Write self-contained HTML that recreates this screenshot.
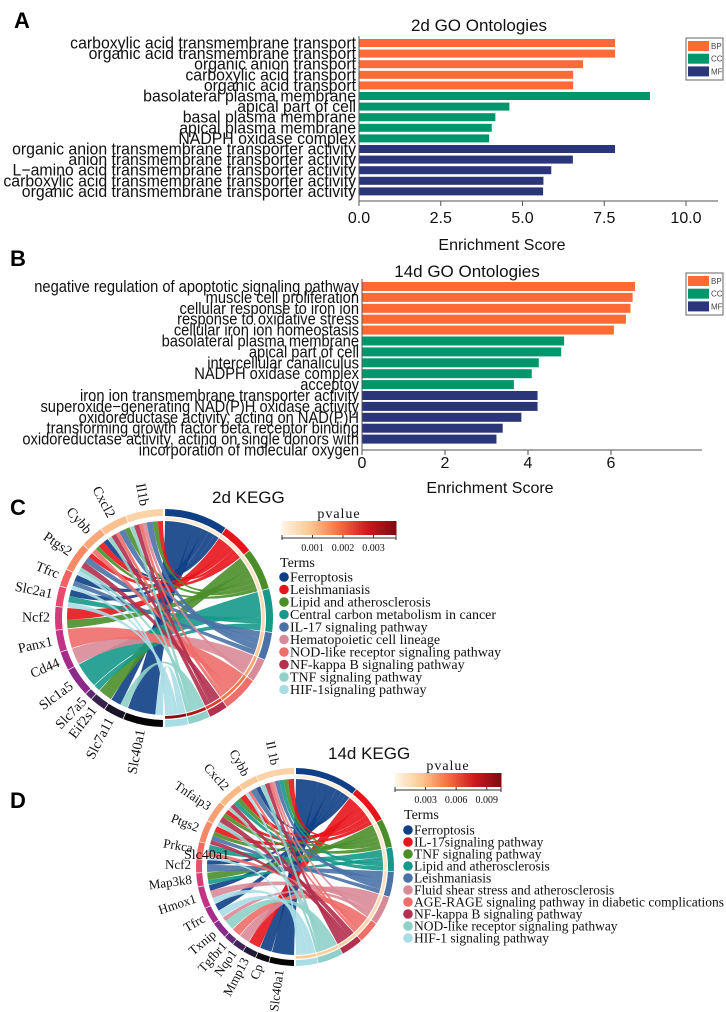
<!DOCTYPE html>
<html><head><meta charset="utf-8"><style>
html,body{margin:0;padding:0;background:#fff;}
svg{display:block;}
text{font-family:"Liberation Sans",sans-serif;}
.serif{font-family:"Liberation Serif",serif;}
</style></head><body>
<svg id="fig" width="726" height="1012" viewBox="0 0 726 1012" xmlns="http://www.w3.org/2000/svg">
<text x="14" y="28" font-size="22" font-weight="bold">A</text>
<text x="10" y="266" font-size="22" font-weight="bold">B</text>
<text x="10" y="515" font-size="22" font-weight="bold">C</text>
<text x="10" y="808" font-size="22" font-weight="bold">D</text>
<g id="gA"></g>
<g id="gB"></g>
<g id="gC"></g>
<g id="gD"></g>
<text x="184" y="859" font-size="14" class="serif" fill="#111">Slc40a1</text>
</svg>
<script>
const goA_terms=["carboxylic acid transmembrane transport","organic acid transmembrane transport","organic anion transport","carboxylic acid transport","organic acid transport","basolateral plasma membrane","apical part of cell","basal plasma membrane","apical plasma membrane","NADPH oxidase complex","organic anion transmembrane transporter activity","anion transmembrane transporter activity","L\u2212amino acid transmembrane transporter activity","carboxylic acid transmembrane transporter activity","organic acid transmembrane transporter activity"];
const goA_values=[7.83,7.83,6.85,6.55,6.55,8.9,4.6,4.17,4.06,3.98,7.83,6.54,5.88,5.64,5.63];
const goA_cats=["BP","BP","BP","BP","BP","CC","CC","CC","CC","CC","MF","MF","MF","MF","MF"];
const goA_ticks=[0,2.5,5,7.5,10];
const goA_tickLabels=["0.0","2.5","5.0","7.5","10.0"];
const goB_terms=["negative regulation of apoptotic signaling pathway","muscle cell proliferation","cellular response to iron ion","response to oxidative stress","cellular iron ion homeostasis","basolateral plasma membrane","apical part of cell","intercellular canaliculus","NADPH oxidase complex","acceptoy","iron ion transmembrane transporter activity","superoxide\u2212generating NAD(P)H oxidase activity","oxidoreductase activity, acting on NAD(P)H","transforming growth factor beta receptor binding","oxidoreductase activity, acting on single donors with|incorporation of molecular oxygen"];
const goB_values=[6.58,6.52,6.47,6.36,6.07,4.87,4.8,4.26,4.09,3.66,4.23,4.23,3.84,3.39,3.24];
const goB_cats=["BP","BP","BP","BP","BP","CC","CC","CC","CC","CC","MF","MF","MF","MF","MF"];
const goB_ticks=[0,2,4,6];
const goB_tickLabels=["0","2","4","6"];
const catColors={BP:"#FE6A35",CC:"#00966B",MF:"#2B357A"};

const c2_terms=["Ferroptosis","Leishmaniasis","Lipid and atherosclerosis","Central carbon metabolism in cancer","IL-17 signaling pathway","Hematopoietic cell lineage","NOD-like receptor signaling pathway","NF-kappa B signaling pathway","TNF signaling pathway","HIF-1signaling pathway"];
const c2_pvalues=[0.0002,0.0003,0.0004,0.0006,0.0009,0.0013,0.0018,0.0024,0.0031,0.0036];
const c2_genes=["Il1b","Cxcl2","Cybb","Ptgs2","Tfrc","Slc2a1","Ncf2","Panx1","Cd44","Slc1a5","Slc7a5","Eif2s1","Slc7a11","Slc40a1"];
const c2_linkTerm=[0,0,0,0,0, 1,1,1,1, 2,2,2,2,2, 3,3,3, 4,4,4,4, 5,5, 6,6,6,6, 7,7,7, 8,8,8,8, 9,9,9,9];
const c2_linkGene=["Slc40a1","Slc7a11","Tfrc","Slc2a1","Cybb", "Ncf2","Cybb","Il1b","Ptgs2", "Eif2s1","Ncf2","Il1b","Cxcl2","Cybb", "Slc1a5","Slc2a1","Slc7a5", "Ptgs2","Cxcl2","Il1b","Tfrc", "Cd44","Il1b", "Panx1","Cybb","Il1b","Cxcl2", "Ptgs2","Il1b","Cxcl2", "Slc7a11","Ptgs2","Il1b","Cxcl2", "Slc40a1","Slc2a1","Tfrc","Ptgs2"];
const c2_linkWeight=[2.2,0.8,0.5,0.5,0.4, 0.9,0.5,0.4,0.4, 1.1,0.7,0.4,0.4,0.3, 2.0,0.5,0.5, 0.5,0.5,0.5,0.4, 1.3,0.3, 1.5,0.4,0.3,0.3, 0.5,0.4,0.4, 0.6,0.3,0.3,0.3, 0.6,0.4,0.3,0.3];
const c2_ticks=[0.001,0.002,0.003];
const c2_tickLabels=["0.001","0.002","0.003"];

const c14_terms=["Ferroptosis","IL-17signaling pathway","TNF signaling pathway","Lipid and atherosclerosis","Leishmaniasis","Fluid shear stress and atherosclerosis","AGE-RAGE signaling pathway in diabetic complications","NF-kappa B signaling pathway","NOD-like receptor signaling pathway","HIF-1 signaling pathway"];
const c14_pvalues=[0.0003,0.0005,0.0008,0.001,0.0012,0.0015,0.0018,0.002,0.0022,0.0025];
const c14_genes=["Il 1b","Cybb","Cxcl2","Tnfaip3","Ptgs2","Prkca","Ncf2","Map3k8","Hmox1","Tfrc","Txnip","Tgfbr1","Nqo1","Mmp13","Cp","Slc40a1"];
const c14_linkTerm=[0,0,0,0,0,0, 1,1,1,1,1, 2,2,2,2,2, 3,3,3,3, 4,4,4,4, 5,5,5,5, 6,6,6,6, 7,7,7,7, 8,8,8,8, 9,9,9,9];
const c14_linkGene=["Slc40a1","Cp","Tfrc","Hmox1","Ncf2","Cybb", "Mmp13","Ptgs2","Cxcl2","Il 1b","Tnfaip3", "Map3k8","Ptgs2","Cxcl2","Il 1b","Tnfaip3", "Prkca","Map3k8","Il 1b","Cxcl2", "Ncf2","Cybb","Il 1b","Ptgs2", "Nqo1","Hmox1","Txnip","Il 1b", "Tgfbr1","Prkca","Il 1b","Cybb", "Tnfaip3","Ptgs2","Cxcl2","Il 1b", "Txnip","Tnfaip3","Il 1b","Cxcl2", "Tfrc","Hmox1","Prkca","Cybb"];
const c14_linkWeight=[1.5,0.8,0.5,0.4,0.3,0.3, 0.8,0.4,0.4,0.4,0.3, 0.5,0.3,0.3,0.3,0.3, 0.5,0.3,0.3,0.3, 0.5,0.4,0.3,0.3, 0.7,0.5,0.3,0.2, 0.6,0.3,0.2,0.2, 0.4,0.3,0.3,0.3, 0.7,0.3,0.3,0.2, 0.5,0.4,0.2,0.2];
const c14_ticks=[0.003,0.006,0.009];
const c14_tickLabels=["0.003","0.006","0.009"];

const termColors=["#0F3F86","#E8141C","#4A8E2A","#16998A","#4A72A6","#D98A98","#EE6E6A","#B3304E","#8FD0C8","#A8DDE5"];
const geneColors2=["#FBD3A6","#F9C090","#F8A878","#F68A64","#F26262","#E64A6E","#D63A7A","#C03386","#A62C8C","#8A2A8A","#5E2A72","#36224C","#1A1428","#050505"];
const geneColors14=["#FBD3A6","#FAC796","#F9B884","#F7A072","#F58866","#F26A62","#E8506C","#D83C78","#C23384","#A82C8A","#8A2A8A","#642A76","#40245A","#221A36","#0D0A14","#050505"];

const NS="http://www.w3.org/2000/svg";
function mk(tag,attrs,parent){const e=document.createElementNS(NS,tag);for(const k in attrs)e.setAttribute(k,attrs[k]);parent.appendChild(e);return e;}

function barChart(g,terms,values,cats,ticks,tickLabels,o){
  const xs=v=>o.x0+v*o.ppu;
  const ys=i=>o.yTop+i*o.pitch;
  const title=mk('text',{x:o.titleX,y:o.titleY,'font-size':17,'text-anchor':'middle',fill:'#111'},g);
  title.textContent=o.title;
  
  
  terms.forEach((t,i)=>{
    const b=mk('rect',{x:xs(0),y:ys(i),width:xs(values[i])-xs(0),height:o.barH,fill:catColors[cats[i]]},g);
    
    
    const lines=t.split('|');
    lines.forEach((ln,k)=>{
      const tx=mk('text',{x:0,y:0,'font-size':o.fs,'text-anchor':'end',fill:'#111',transform:`translate(${xs(0)-3},${ys(i)+o.barH/2+5.5+k*o.pitch}) scale(${o.sx},1)`},g);
      tx.textContent=ln;
      
      
    });
  });
  mk('line',{x1:xs(0),x2:xs(0),y1:o.yTop-3,y2:o.axisY,stroke:'#555','stroke-width':1},g);
  const ax=mk('line',{x1:xs(0),x2:o.axisEnd,y1:o.axisY,y2:o.axisY,stroke:'#555','stroke-width':1},g);
  
  
  ticks.forEach((t,i)=>{
    mk('line',{x1:xs(t),x2:xs(t),y1:o.axisY,y2:o.axisY+5,stroke:'#555'},g);
    const tl=mk('text',{x:xs(t),y:o.tickY,'font-size':16,'text-anchor':'middle',fill:'#111'},g);
    tl.textContent=tickLabels[i];
    
    
  });
  const xt=mk('text',{x:o.xtX,y:o.xtY,'font-size':16,'text-anchor':'middle',fill:'#111'},g);
  xt.textContent='Enrichment Score';
  
  
  const lg=mk('g',{},g);
  
  
  mk('rect',{x:686,y:o.legY,width:37,height:42,fill:'#fff',stroke:'#666','stroke-width':1},lg);
  ["BP","CC","MF"].forEach((c,i)=>{
    mk('rect',{x:688,y:o.legY+3+i*12.7,width:21,height:10,fill:catColors[c]},lg);
    const t=mk('text',{x:711,y:o.legY+11+i*12.7,'font-size':8,fill:'#444'},lg);
    t.textContent=c;
    
    
  });
}
barChart(document.getElementById('gA'),goA_terms,goA_values,goA_cats,goA_ticks,goA_tickLabels,
 {x0:359,ppu:32.7,yTop:39,pitch:10.6,barH:8,fs:16.5,sx:0.96,axisY:201,axisEnd:718,tickY:223,xtX:502,xtY:250,title:'2d GO Ontologies',titleX:479,titleY:31,legY:38});
barChart(document.getElementById('gB'),goB_terms,goB_values,goB_cats,goB_ticks,goB_tickLabels,
 {x0:362,ppu:41.5,yTop:282,pitch:10.9,barH:9,fs:16.5,sx:0.89,axisY:450,axisEnd:702,tickY:468,xtX:490,xtY:493,title:'14d     GO Ontologies',titleX:467,titleY:277,legY:273});

function pcol(t){
  const st=[[255,245,230],[253,200,145],[246,110,65],[205,25,30],[125,10,16]];
  t=Math.max(0,Math.min(1,t));const f=t*(st.length-1);const i=Math.min(st.length-2,Math.floor(f));const u=f-i;
  const c=st[i].map((v,k)=>Math.round(v+(st[i+1][k]-v)*u));return 'rgb('+c.join(',')+')';
}
function chord(g,terms,pvals,genes,lT,lG,lW,geneCols,ticks,tickLabels,o){
  const P=(r,a)=>{const rad=a*Math.PI/180;return [o.cx+r*Math.sin(rad),o.cy-r*Math.cos(rad)];};
  const arc=(r1,r2,a1,a2,fill,name)=>{
    const p1=P(r2,a1),p2=P(r2,a2),p3=P(r1,a2),p4=P(r1,a1);const lg=(a2-a1)>180?1:0;
    const e=mk('path',{d:`M${p1}A${r2},${r2} 0 ${lg} 1 ${p2}L${p3}A${r1},${r1} 0 ${lg} 0 ${p4}Z`,fill:fill},g);
    
    
    return e;};
  const W=lW.reduce((a,b)=>a+b,0);const gap=0.6,pad=0.4;
  const kT=(180-2*gap-pad*(terms.length-1))/W, kG=(180-2*gap-pad*(genes.length-1))/W;
  const tStart=[];let a=gap;
  terms.forEach((t,j)=>{tStart[j]=a;const s=lW.filter((w,i)=>lT[i]===j).reduce((x,y)=>x+y,0)*kT;
    const ts=a,te=a+s;arc(o.r-o.rw,o.r,ts,te,termColors[j],'term-arc');
    arc(o.r-o.rw-4,o.r-o.rw-1.2,ts,te,pcol(pvals[j]/o.pmax),'pvalue-arc');a=te+pad;});
  const gStart={};let b=360-gap;
  genes.forEach((gn,j)=>{const s=lW.filter((w,i)=>lG[i]===gn).reduce((x,y)=>x+y,0)*kG;
    const ge=b,gs=b-s;arc(o.r-o.rw,o.r,gs,ge,geneCols[j],'gene-arc');
    gStart[gn]=ge;
    const mid=(gs+ge)/2;const p=P(o.r+5,mid);
    const t=mk('text',{x:p[0],y:p[1],'font-size':o.gfs,'text-anchor':'end','dominant-baseline':'middle',transform:`rotate(${mid-270} ${p[0]} ${p[1]})`,fill:'#111',class:'serif'},g);
    t.textContent=gn;
    
    
    b=gs-pad;});
  const tPos=tStart.slice();const gPos=Object.assign({},gStart);const rr=o.r-o.rw-5;
  const c=[o.cx,o.cy];
  lT.forEach((j,i)=>{const w=lW[i];const a1=tPos[j],a2=a1+w*kT;tPos[j]=a2;
    const gn=lG[i];const b2=gPos[gn],b1=b2-w*kG;gPos[gn]=b1;
    const A1=P(rr,a1),A2=P(rr,a2),B1=P(rr,b1),B2=P(rr,b2);
    const e=mk('path',{d:`M${A1}A${rr},${rr} 0 0 1 ${A2}Q${c} ${B1}A${rr},${rr} 0 0 1 ${B2}Q${c} ${A1}Z`,fill:termColors[j],'fill-opacity':0.9},g);
    
    
  });
  const tt=mk('text',{x:o.titleX,y:o.titleY,'font-size':17,fill:'#111'},g);
  tt.textContent=o.title;
  
  
  const cb=mk('g',{},g);
  
  
  const N=40,bw=(o.cbX2-o.cbX1)/N;
  for(let i=0;i<N;i++)mk('rect',{x:o.cbX1+i*bw,y:o.cbY,width:bw+0.5,height:14,fill:pcol((i+0.5)/N)},cb);
  const xs=v=>o.cbX1+v/o.pmax*(o.cbX2-o.cbX1);
  mk('line',{x1:o.cbX1,x2:o.cbX2,y1:o.cbY+17,y2:o.cbY+17,stroke:'#333'},cb);
  mk('line',{x1:o.cbX1,x2:o.cbX1,y1:o.cbY+14,y2:o.cbY+19,stroke:'#333'},cb);
  mk('line',{x1:o.cbX2,x2:o.cbX2,y1:o.cbY+14,y2:o.cbY+19,stroke:'#333'},cb);
  ticks.forEach((t,i)=>{mk('line',{x1:xs(t),x2:xs(t),y1:o.cbY+14,y2:o.cbY+17,stroke:'#333'},cb);
    const l=mk('text',{x:xs(t),y:o.cbY+30,'font-size':10,'text-anchor':'middle',class:'serif',fill:'#111'},cb);
    l.textContent=tickLabels[i];
    
    });
  const pv=mk('text',{x:(o.cbX1+o.cbX2)/2,y:o.cbY-3,'font-size':14,'text-anchor':'middle',class:'serif',fill:'#111','letter-spacing':1},cb);
  pv.textContent='pvalue';
  
  
  const th=mk('text',{x:o.legX,y:o.termsY,'font-size':14,class:'serif',fill:'#111'},g);
  th.textContent='Terms';
  
  
  terms.forEach((t,j)=>{const y=o.legY+j*o.legP;
    mk('circle',{cx:o.legX+4,cy:y,r:4.8,fill:termColors[j]},g);
    const l=mk('text',{x:o.legX+10,y:y+4.5,'font-size':o.lfs,class:'serif',fill:'#111'},g);
    l.textContent=t;
    
    });
}
chord(document.getElementById('gC'),c2_terms,c2_pvalues,c2_genes,c2_linkTerm,c2_linkGene,c2_linkWeight,geneColors2,c2_ticks,c2_tickLabels,
 {cx:164,cy:618,r:109,rw:7,gfs:14,pmax:0.00374,title:'2d KEGG',titleX:212,titleY:503,cbX1:282,cbX2:396,cbY:521,legX:280,termsY:567,legY:577,legP:12.5,lfs:14});
chord(document.getElementById('gD'),c14_terms,c14_pvalues,c14_genes,c14_linkTerm,c14_linkGene,c14_linkWeight,geneColors14,c14_ticks,c14_tickLabels,
 {cx:295,cy:867,r:99,rw:6,gfs:13,pmax:0.0104,title:'14d KEGG',titleX:328,titleY:759,cbX1:395,cbX2:501,cbY:773,legX:404,termsY:819,legY:830,legP:12,lfs:13.5});
</script>
</body></html>
